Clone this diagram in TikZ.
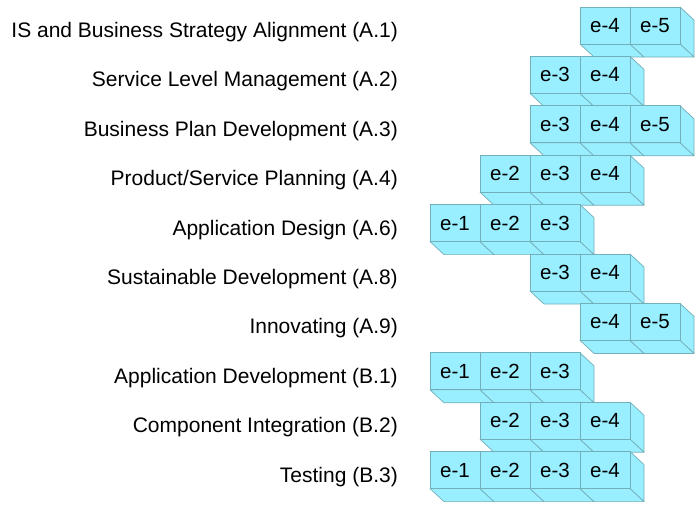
\documentclass[tikz,border=0pt]{standalone}
\usepackage{fontspec}
\setmainfont{Liberation Sans}
\definecolor{cubefill}{RGB}{153,238,255}
\definecolor{cubeedge}{RGB}{115,175,185}
\begin{document}
\begin{tikzpicture}[x=1pt,y=-1pt,
  cubeface/.style={fill=cubefill, draw=cubeedge, line width=0.7pt, line join=round},
  cubefront/.style={cubeface, minimum width=50pt, minimum height=37pt, inner sep=0pt, outer sep=0pt,
    anchor=north west, font=\fontsize{20.5}{22}\selectfont},
  rowlabel/.style={anchor=east, inner sep=0pt, font=\fontsize{21}{23}\selectfont}]
\useasboundingbox (0,0) rectangle (698,504);
\foreach \r/\txt/\levels in {
  1/{IS and Business Strategy Alignment (A.1)}/{4,5},
  2/{Service Level Management (A.2)}/{3,4},
  3/{Business Plan Development (A.3)}/{3,4,5},
  4/{Product/Service Planning (A.4)}/{2,3,4},
  5/{Application Design (A.6)}/{1,2,3},
  6/{Sustainable Development (A.8)}/{3,4},
  7/{Innovating (A.9)}/{4,5},
  8/{Application Development (B.1)}/{1,2,3},
  9/{Component Integration (B.2)}/{2,3,4},
  10/{Testing (B.3)}/{1,2,3,4}} {
  \pgfmathsetmacro\rowtop{7+49.4*(\r-1)}
  \node[rowlabel] (lab\r) at (398,\rowtop+25) {\txt};
  \foreach \c in \levels {
    \pgfmathsetmacro\colleft{430+50*(\c-1)}
    % right and bottom faces of the block, then its front face
    \draw[cubeface] (\colleft+50,\rowtop) -- ++(14,13) -- ++(0,37) -- ++(-14,-13) -- cycle;
    \draw[cubeface] (\colleft,\rowtop+37) -- ++(50,0) -- ++(14,13) -- ++(-50,0) -- cycle;
    \node[cubefront] (b\r-\c) at (\colleft,\rowtop) {e-\c};
  }
}
\end{tikzpicture}
\end{document}
